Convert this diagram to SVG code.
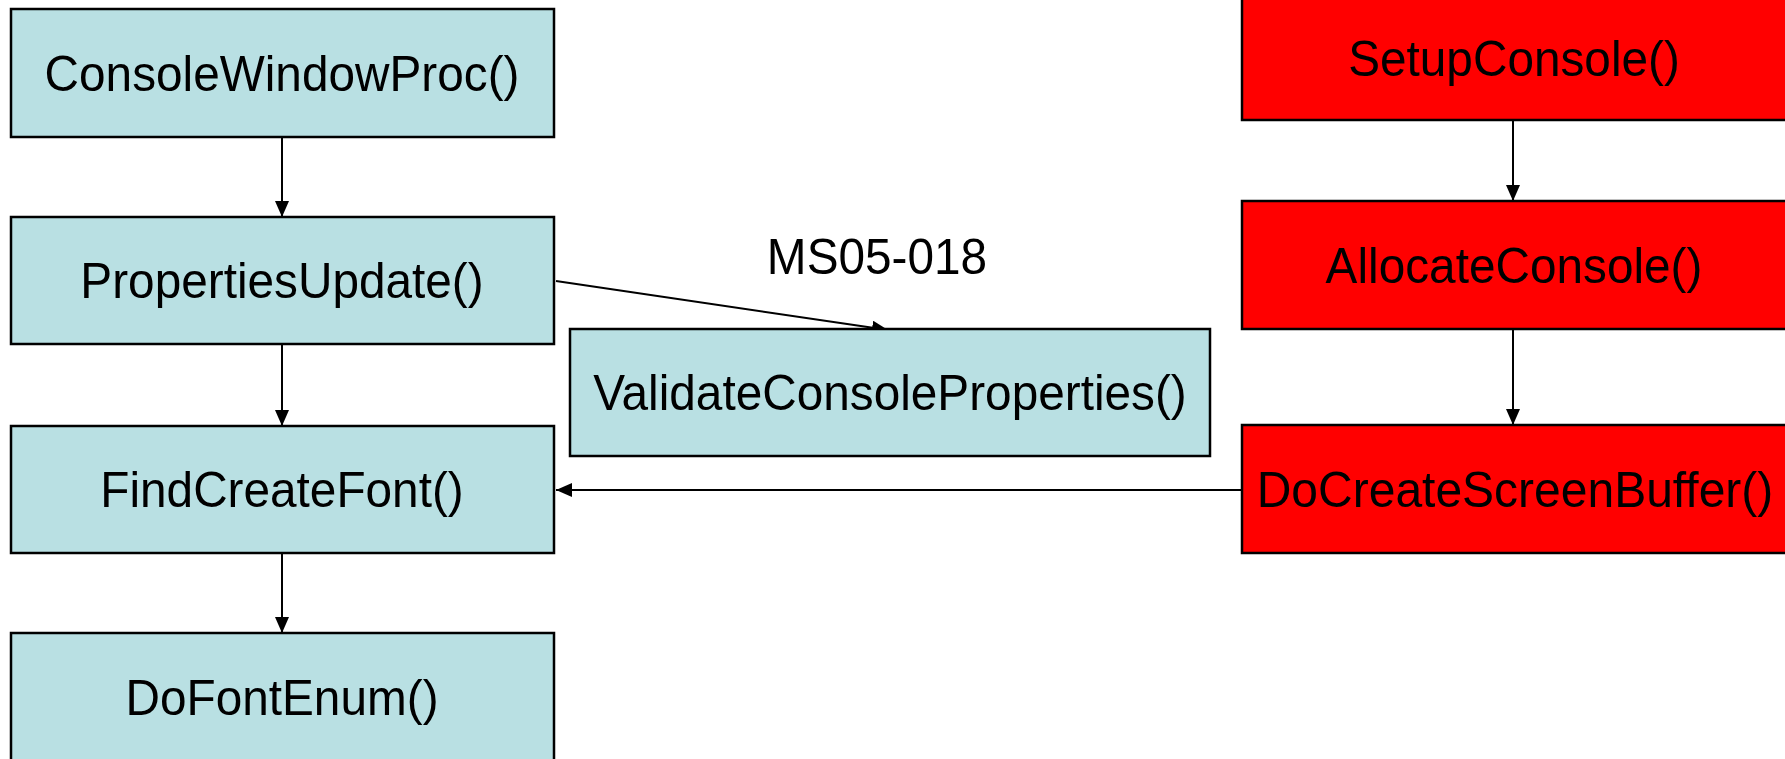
<svg xmlns="http://www.w3.org/2000/svg" width="1785" height="759" viewBox="0 0 1785 759">
<style>
.blue{fill:#B9E0E3;stroke:#000;stroke-width:2.5}
.red{fill:#FF0000;stroke:#000;stroke-width:2.5}
.t{font-family:"Liberation Sans",Arial,sans-serif;font-size:50px;fill:#000;text-anchor:middle}
.c{stroke:#000;stroke-width:2;fill:none;marker-end:url(#ah)}
</style>
<defs>
<marker id="ah" markerWidth="16" markerHeight="14" refX="16" refY="7" orient="auto" markerUnits="userSpaceOnUse">
<path d="M0,0 L16,7 L0,14 Z" fill="#000"/>
</marker>
</defs>
<rect width="1785" height="759" fill="#fff"/>
<g id="connectors">
<line class="c" x1="282" y1="137" x2="282" y2="217"/>
<line class="c" x1="282" y1="344" x2="282" y2="426"/>
<line class="c" x1="282" y1="553" x2="282" y2="633"/>
<line class="c" x1="556" y1="281" x2="888" y2="330"/>
<line class="c" x1="1513" y1="120" x2="1513" y2="201"/>
<line class="c" x1="1513" y1="329" x2="1513" y2="425"/>
<line class="c" x1="1242" y1="490" x2="556" y2="490"/>
</g>
<g id="label-ms05"><text class="t" transform="translate(877,274) scale(0.955,1)">MS05-018</text></g>
<g id="n-consolewindowproc"><rect class="blue" x="11" y="9" width="543" height="128"/><text class="t" transform="translate(282,91) scale(0.955,1)">ConsoleWindowProc()</text></g>
<g id="n-propertiesupdate"><rect class="blue" x="11" y="217" width="543" height="127"/><text class="t" transform="translate(282,298) scale(0.955,1)">PropertiesUpdate()</text></g>
<g id="n-findcreatefont"><rect class="blue" x="11" y="426" width="543" height="127"/><text class="t" transform="translate(282,507) scale(0.955,1)">FindCreateFont()</text></g>
<g id="n-dofontenum"><rect class="blue" x="11" y="633" width="543" height="140"/><text class="t" transform="translate(282,715) scale(0.955,1)">DoFontEnum()</text></g>
<g id="n-validate"><rect class="blue" x="570" y="329" width="640" height="127"/><text class="t" transform="translate(890,410) scale(0.955,1)">ValidateConsoleProperties()</text></g>
<g id="n-setupconsole"><rect class="red" x="1242" y="-10" width="560" height="130"/><text class="t" transform="translate(1514,76) scale(0.955,1)">SetupConsole()</text></g>
<g id="n-allocateconsole"><rect class="red" x="1242" y="201" width="560" height="128"/><text class="t" transform="translate(1514,283) scale(0.955,1)">AllocateConsole()</text></g>
<g id="n-docreatescreenbuffer"><rect class="red" x="1242" y="425" width="560" height="128"/><text class="t" transform="translate(1515,507) scale(0.96,1)">DoCreateScreenBuffer()</text></g>
</svg>
